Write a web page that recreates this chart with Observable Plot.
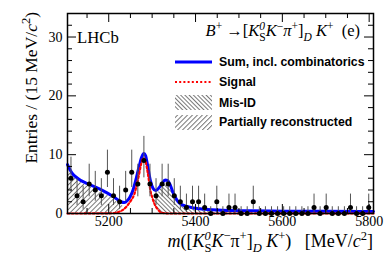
<!DOCTYPE html>
<html><head><meta charset="utf-8">
<script src="https://cdn.jsdelivr.net/npm/d3@7"></script>
<script src="https://cdn.jsdelivr.net/npm/@observablehq/plot@0.6"></script>
<style>body{margin:0;background:#fff} #chart{width:392px;height:266px}</style>
</head><body><div id="chart"></div>
<script>
// ---- data ----
const binMass = [5113,5127,5141,5155,5169,5183,5197,5211,5225,5239,5253,5267,5281,5295,5309,5323,5337,5351,5365,5379,
                 5393,5407,5421,5435,5449,5463,5477,5491,5505,5519,5533,5547,5561,5575,5589,5603,5617,5631,5645,5659,
                 5673,5687,5701,5715,5729,5743,5757,5771,5785,5799];
const counts  = [6,3,2,5,4,3,7,3,2,4,7,5,9,5,3,5,5,3,2,1,
                 2,2,1,0,2,0,1,1,0,0,2,0,0,0,0,0,0,0,0,0,
                 1,0,1,0,0,0,1,0,0,1];
const errLo   = [3.62,1.37,0.71,2.84,2.09,1.37,4.42,1.37,0.71,2.09,4.42,2.84,6.06,2.84,1.37,2.84,2.84,1.37,0.71,0.17,
                 0.71,0.71,0.17,0,0.71,0,0.17,0.17,0,0,0.71,0,0,0,0,0,0,0,0,0,
                 0.17,0,0.17,0,0,0,0.17,0,0,0.17];
const errHi   = [9.58,5.92,4.64,8.38,7.16,5.92,10.77,5.92,4.64,7.16,10.77,8.38,13.11,8.38,5.92,8.38,8.38,5.92,4.64,3.30,
                 4.64,4.64,3.30,1.15,4.64,1.15,3.30,3.30,1.15,1.15,4.64,1.15,1.15,1.15,1.15,1.15,1.15,1.15,1.15,1.15,
                 3.30,1.15,3.30,1.15,1.15,1.15,3.30,1.15,1.15,3.30];

const totalMass = [5105,5115,5128,5150,5181,5212,5228,5236,5243,5249,5256,5262,5270,5276,5281,5285,5289,5296,5302,5308,
                   5314,5322,5330,5336,5342,5348,5354,5360,5366,5376,5388,5405,5427,5460,5481,5530,5600,5700,5810];
const totalVal  = [8.3,6.9,6.0,5.1,4.1,2.8,2.0,1.85,2.2,2.8,4.0,5.6,8.0,9.6,10.2,9.8,8.4,5.6,4.3,3.9,
                   4.2,5.0,5.7,5.6,4.8,3.6,2.7,2.0,1.6,1.3,1.07,0.85,0.68,0.56,0.5,0.45,0.4,0.37,0.35];

const signalMass = [5105,5200,5215,5224,5235,5243,5251,5259,5265,5270,5275,5280,5285,5289,5293,5296,5300,5304,5308,5312,5319,5328,5340,5810];
const signalVal  = [0,0.02,0.12,0.3,0.75,1.35,2.2,3.3,5.0,6.7,8.5,9.4,8.8,7.3,5.4,3.9,2.8,1.9,1.25,0.8,0.25,0.05,0,0];

const partRecoMass = [5105,5115,5128,5150,5181,5212,5228,5236,5245,5255,5265,5275];
const partRecoVal  = [7.8,6.5,5.6,4.7,3.7,2.4,1.5,1.1,0.7,0.35,0.1,0];

const misIdMass = [5270,5280,5290,5300,5308,5314,5322,5330,5336,5342,5348,5354,5360,5366,5376,5388,5405,5427,5460,5500,5600,5810];
const misIdVal  = [0,0.3,0.8,1.8,2.6,3.4,4.4,5.2,5.2,4.5,3.3,2.4,1.7,1.3,1.0,0.75,0.55,0.4,0.3,0.25,0.2,0.2];

const xTicksMajor = [5200,5400,5600,5800];
const xTicksMinor = [5150,5250,5300,5350,5450,5500,5550,5650,5700,5750];
const yTicksMajor = [0,10,20,30];
const yTicksMinor = [2,4,6,8,12,14,16,18,22,24,26,28,32];

const legendLabels = ["Sum, incl. combinatorics","Signal","Mis-ID","Partially reconstructed"];

// ---- layout ----
const W = 392, H = 266, mL = 67, mR = 19, mT = 13, mB = 53;
const pw = W - mL - mR, ph = H - mT - mB;

const pts = binMass.map((m, i) => ({m, n: counts[i], lo: errLo[i], hi: errHi[i]}));
const zip = (a, b) => a.map((m, i) => ({m, v: b[i]}));
const total = zip(totalMass, totalVal);
const signal = zip(signalMass, signalVal);
const partReco = zip(partRecoMass, partRecoVal);
const misId = zip(misIdMass, misIdVal);

const svg = Plot.plot({
  width: W, height: H,
  marginLeft: mL, marginRight: mR, marginTop: mT, marginBottom: mB,
  x: {domain: [5105, 5810], axis: null},
  y: {domain: [0, 34], axis: null},
  style: {fontFamily: "'Liberation Serif', 'Times New Roman', serif", fontSize: "14px", background: "white", color: "black"},
  marks: [
    Plot.areaY(partReco, {x: "m", y: "v", fill: "url(#hatchPR)", curve: "monotone-x"}),
    Plot.areaY(misId, {x: "m", y: "v", fill: "url(#hatchMis)", curve: "monotone-x"}),
    Plot.areaY(signal, {x: "m", y: "v", fill: "white", curve: "monotone-x"}),
    Plot.line(total, {x: "m", y: "v", stroke: "#0000ff", strokeWidth: 3, curve: "monotone-x"}),
    Plot.line(signal, {x: "m", y: "v", stroke: "#ff0000", strokeWidth: 2.2, strokeDasharray: "2,2.2", curve: "monotone-x"}),
    Plot.ruleX(pts, {x: "m", y1: "lo", y2: "hi", stroke: "#555", strokeWidth: 1}),
    Plot.dot(pts, {x: "m", y: "n", r: 2.5, fill: "black", stroke: "none"}),
    Plot.frame({stroke: "black", strokeWidth: 1.5}),
    Plot.tickX(xTicksMajor, {x: d => d, insetTop: ph - 9, stroke: "black"}),
    Plot.tickX(xTicksMajor, {x: d => d, insetBottom: ph - 9, stroke: "black"}),
    Plot.tickX(xTicksMinor, {x: d => d, insetTop: ph - 5, stroke: "black"}),
    Plot.tickX(xTicksMinor, {x: d => d, insetBottom: ph - 5, stroke: "black"}),
    Plot.tickY(yTicksMajor, {y: d => d, insetRight: pw - 9, stroke: "black"}),
    Plot.tickY(yTicksMajor, {y: d => d, insetLeft: pw - 9, stroke: "black"}),
    Plot.tickY(yTicksMinor, {y: d => d, insetRight: pw - 5, stroke: "black"}),
    Plot.tickY(yTicksMinor, {y: d => d, insetLeft: pw - 5, stroke: "black"}),
    Plot.text(xTicksMajor, {x: d => d, text: d => String(d), frameAnchor: "bottom", lineAnchor: "top", dy: 3, fontSize: 14}),
    Plot.text(yTicksMajor, {y: d => d, text: d => String(d), frameAnchor: "left", textAnchor: "end", dx: -5, fontSize: 14})
  ]
});
document.getElementById("chart").appendChild(svg);

const s = d3.select(svg);
s.insert("defs", ":first-child").html(`
  <pattern id="hatchPR" patternUnits="userSpaceOnUse" width="3.5" height="3.5" patternTransform="rotate(45)">
    <line x1="0.5" y1="0" x2="0.5" y2="3.5" stroke="#555" stroke-width="0.8"/></pattern>
  <pattern id="hatchMis" patternUnits="userSpaceOnUse" width="3" height="3" patternTransform="rotate(-45)">
    <line x1="0.5" y1="0" x2="0.5" y2="3" stroke="#555" stroke-width="0.8"/></pattern>`);

// legend
const lg = s.append("g").attr("text-anchor", "start");
const lx0 = 175, lx1 = 212, tx = 219;
lg.append("line").attr("x1", lx0).attr("x2", lx1).attr("y1", 62).attr("y2", 62).attr("stroke", "#0000ff").attr("stroke-width", 3);
lg.append("line").attr("x1", lx0).attr("x2", lx1).attr("y1", 82).attr("y2", 82).attr("stroke", "#ff0000").attr("stroke-width", 2.2).attr("stroke-dasharray", "2,2.2");
lg.append("rect").attr("x", lx0).attr("y", 95).attr("width", lx1 - lx0).attr("height", 15).attr("fill", "url(#hatchMis)");
lg.append("rect").attr("x", lx0).attr("y", 115).attr("width", lx1 - lx0).attr("height", 15).attr("fill", "url(#hatchPR)");
[66, 86, 107, 126].forEach((y, i) => {
  lg.append("text").attr("x", tx).attr("y", y).attr("text-anchor", "start")
    .attr("font-family", "'Liberation Sans', Arial, sans-serif")
    .attr("font-weight", "bold").attr("font-size", 12.3).attr("fill", "black").text(legendLabels[i]);
});

// annotations
const ann = s.append("g").attr("font-family", "'Liberation Serif', 'Times New Roman', serif").attr("fill", "black");
ann.append("text").attr("x", 77).attr("y", 43).attr("text-anchor", "start").attr("font-size", 16.7).text("LHCb");
ann.append("g").html(`
<text x="360" y="36" text-anchor="end" font-size="16.5"><tspan font-style="italic">B</tspan><tspan dy="-6.5" font-size="11.5">+</tspan><tspan dy="6.5"> →[</tspan><tspan font-style="italic">K</tspan><tspan dy="-6.5" font-size="11.5" font-style="italic">0</tspan><tspan dx="-5.8" dy="11" font-size="11.5">S</tspan><tspan dy="-4.5" font-style="italic">K</tspan><tspan dy="-6.5" font-size="11.5">−</tspan><tspan dy="6.5" font-style="italic">π</tspan><tspan dy="-6.5" font-size="11.5">+</tspan><tspan dy="6.5">]</tspan><tspan dy="4.5" font-size="11.5" font-style="italic">D</tspan><tspan dy="-4.5"> </tspan><tspan font-style="italic">K</tspan><tspan dy="-6.5" font-size="11.5">+</tspan><tspan dy="6.5">  (e)</tspan></text>
<text x="373" y="247" text-anchor="end" font-size="18"><tspan font-style="italic">m</tspan>([<tspan font-style="italic">K</tspan><tspan dy="-7.5" font-size="12.5" font-style="italic">0</tspan><tspan dx="-6.3" dy="12" font-size="12.5">S</tspan><tspan dy="-4.5" font-style="italic">K</tspan><tspan dy="-7.5" font-size="12.5">−</tspan><tspan dy="7.5">π</tspan><tspan dy="-7.5" font-size="12.5">+</tspan><tspan dy="7.5">]</tspan><tspan dy="4.5" font-size="12.5" font-style="italic">D</tspan><tspan dy="-4.5"> </tspan><tspan font-style="italic">K</tspan><tspan dy="-7.5" font-size="12.5">+</tspan><tspan dy="7.5">)   [MeV/</tspan><tspan font-style="italic">c</tspan><tspan dy="-7" font-size="12.5">2</tspan><tspan dy="7">]</tspan></text>
<text transform="translate(37,12) rotate(-90)" text-anchor="end" font-size="17.5">Entries / (15 MeV/<tspan font-style="italic">c</tspan><tspan dy="-7" font-size="12.5">2</tspan><tspan dy="7">)</tspan></text>
`);
</script>
</body></html>
